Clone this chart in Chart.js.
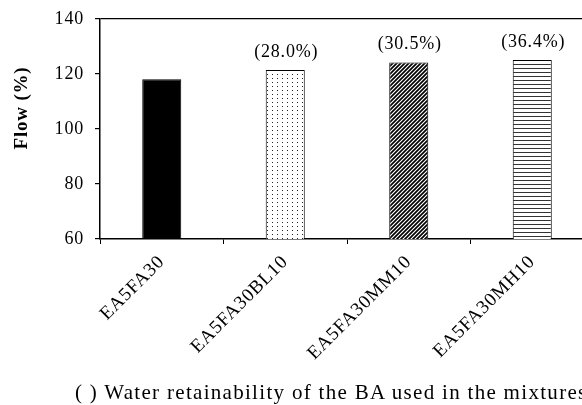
<!DOCTYPE html>
<html>
<head>
<meta charset="utf-8">
<script src="https://cdn.jsdelivr.net/npm/chart.js@4/dist/chart.umd.min.js"></script>
<style>
  html, body { margin: 0; padding: 0; background: #fff; overflow: hidden; }
  #wrap { position: relative; width: 582px; height: 405px; overflow: hidden; }
  #chart { position: absolute; left: 0; top: 0; }
  #note {
    position: absolute; left: 75px; top: 382px;
    font: 21px "Liberation Serif", serif; line-height: 21px;
    letter-spacing: 1.3px; white-space: nowrap; color: #000;
  }
</style>
</head>
<body>
<div id="wrap">
  <canvas id="chart" width="620" height="405" style="width:620px;height:405px"></canvas>
  <div id="note">( ) Water retainability of the BA used in the mixtures</div>
</div>
<script>
const mixes = ['EA5FA30', 'EA5FA30BL10', 'EA5FA30MM10', 'EA5FA30MH10'];
const flow = [118.1, 121.5, 124.2, 125.1];
const retain = [null, 28.0, 30.5, 36.4];
const yTicks = [60, 80, 100, 120, 140];

const SERIF = '"Liberation Serif", "Times New Roman", serif';

// small tiles used as bar fills
const makeTile = (w, h, paint) => {
  const c = document.createElement('canvas');
  c.width = w; c.height = h;
  const g = c.getContext('2d');
  g.fillStyle = '#fff';
  g.fillRect(0, 0, w, h);
  paint(g);
  return g.createPattern(c, 'repeat');
};

const dots = makeTile(5, 4, g => {
  g.fillStyle = '#222';
  g.fillRect(2, 2, 1, 1);
});

const hatch = makeTile(4, 4, g => {
  g.strokeStyle = '#000';
  g.lineWidth = 1.7;
  g.beginPath();
  g.moveTo(-1, 1); g.lineTo(1, -1);
  g.moveTo(0, 4); g.lineTo(4, 0);
  g.moveTo(3, 5); g.lineTo(5, 3);
  g.stroke();
});

const stripes = makeTile(4, 4, g => {
  g.fillStyle = '#333';
  g.fillRect(0, 0, 4, 1);
});

const fills = ['#000', dots, hatch, stripes];

// slightly wider tracking for the canvas text
const spacing = {
  id: 'spacing',
  beforeLayout(chart) { chart.ctx.letterSpacing = '0.8px'; },
  beforeDraw(chart) { chart.ctx.letterSpacing = '0.8px'; }
};

// (xx.x%) above each bar and the rotated y title
const annotate = {
  id: 'annotate',
  afterDatasetsDraw(chart) {
    const ctx = chart.ctx;
    const meta = chart.getDatasetMeta(0);
    ctx.save();
    ctx.font = '18px ' + SERIF;
    ctx.fillStyle = '#000';
    ctx.textAlign = 'center';
    ctx.textBaseline = 'alphabetic';
    meta.data.forEach((bar, i) => {
      if (retain[i] == null) return;
      ctx.fillText('(' + retain[i].toFixed(1) + '%)', bar.x + 1, bar.y - 13);
    });
    ctx.restore();
  },
  afterDraw(chart) {
    const ctx = chart.ctx;
    ctx.save();
    ctx.translate(22, chart.chartArea.top + 89);
    ctx.rotate(-Math.PI / 2);
    ctx.font = 'bold 19px ' + SERIF;
    ctx.fillStyle = '#000';
    ctx.textAlign = 'center';
    ctx.textBaseline = 'middle';
    ctx.fillText('Flow (%)', 0, 0);
    ctx.restore();
  }
};

new Chart(document.getElementById('chart'), {
  type: 'bar',
  data: {
    labels: mixes,
    datasets: [{
      data: flow,
      backgroundColor: fills,
      borderColor: '#000',
      borderWidth: 1,
      barPercentage: 0.316,
      categoryPercentage: 1
    }]
  },
  options: {
    responsive: false,
    animation: false,
    layout: { padding: { top: 19, right: 26, bottom: 0, left: 0 } },
    plugins: {
      legend: { display: false },
      tooltip: { enabled: false }
    },
    scales: {
      x: {
        offset: true,
        border: { display: true, color: '#000', width: 1.5 },
        grid: {
          display: true,
          offset: true,
          drawOnChartArea: false,
          color: '#000',
          tickLength: 5
        },
        ticks: {
          autoSkip: false,
          minRotation: 45,
          maxRotation: 45,
          padding: 7,
          color: '#000',
          font: { family: SERIF, size: 19 }
        },
        afterFit(scale) { scale.height = 166; }
      },
      y: {
        min: yTicks[0],
        max: yTicks[yTicks.length - 1],
        border: { display: true, color: '#000', width: 1.5 },
        grid: {
          color: c => (c.tick && c.tick.value === yTicks[yTicks.length - 1]) ? '#000' : 'rgba(0,0,0,0)',
          tickColor: '#000',
          tickLength: 5,
          lineWidth: 1.2
        },
        ticks: {
          stepSize: yTicks[1] - yTicks[0],
          padding: 11,
          color: '#000',
          font: { family: SERIF, size: 18 }
        },
        afterFit(scale) {
          scale.width = 100;
          scale.paddingTop = 0;
          scale.paddingBottom = 0;
        }
      }
    }
  },
  plugins: [spacing, annotate]
});
</script>
</body>
</html>
